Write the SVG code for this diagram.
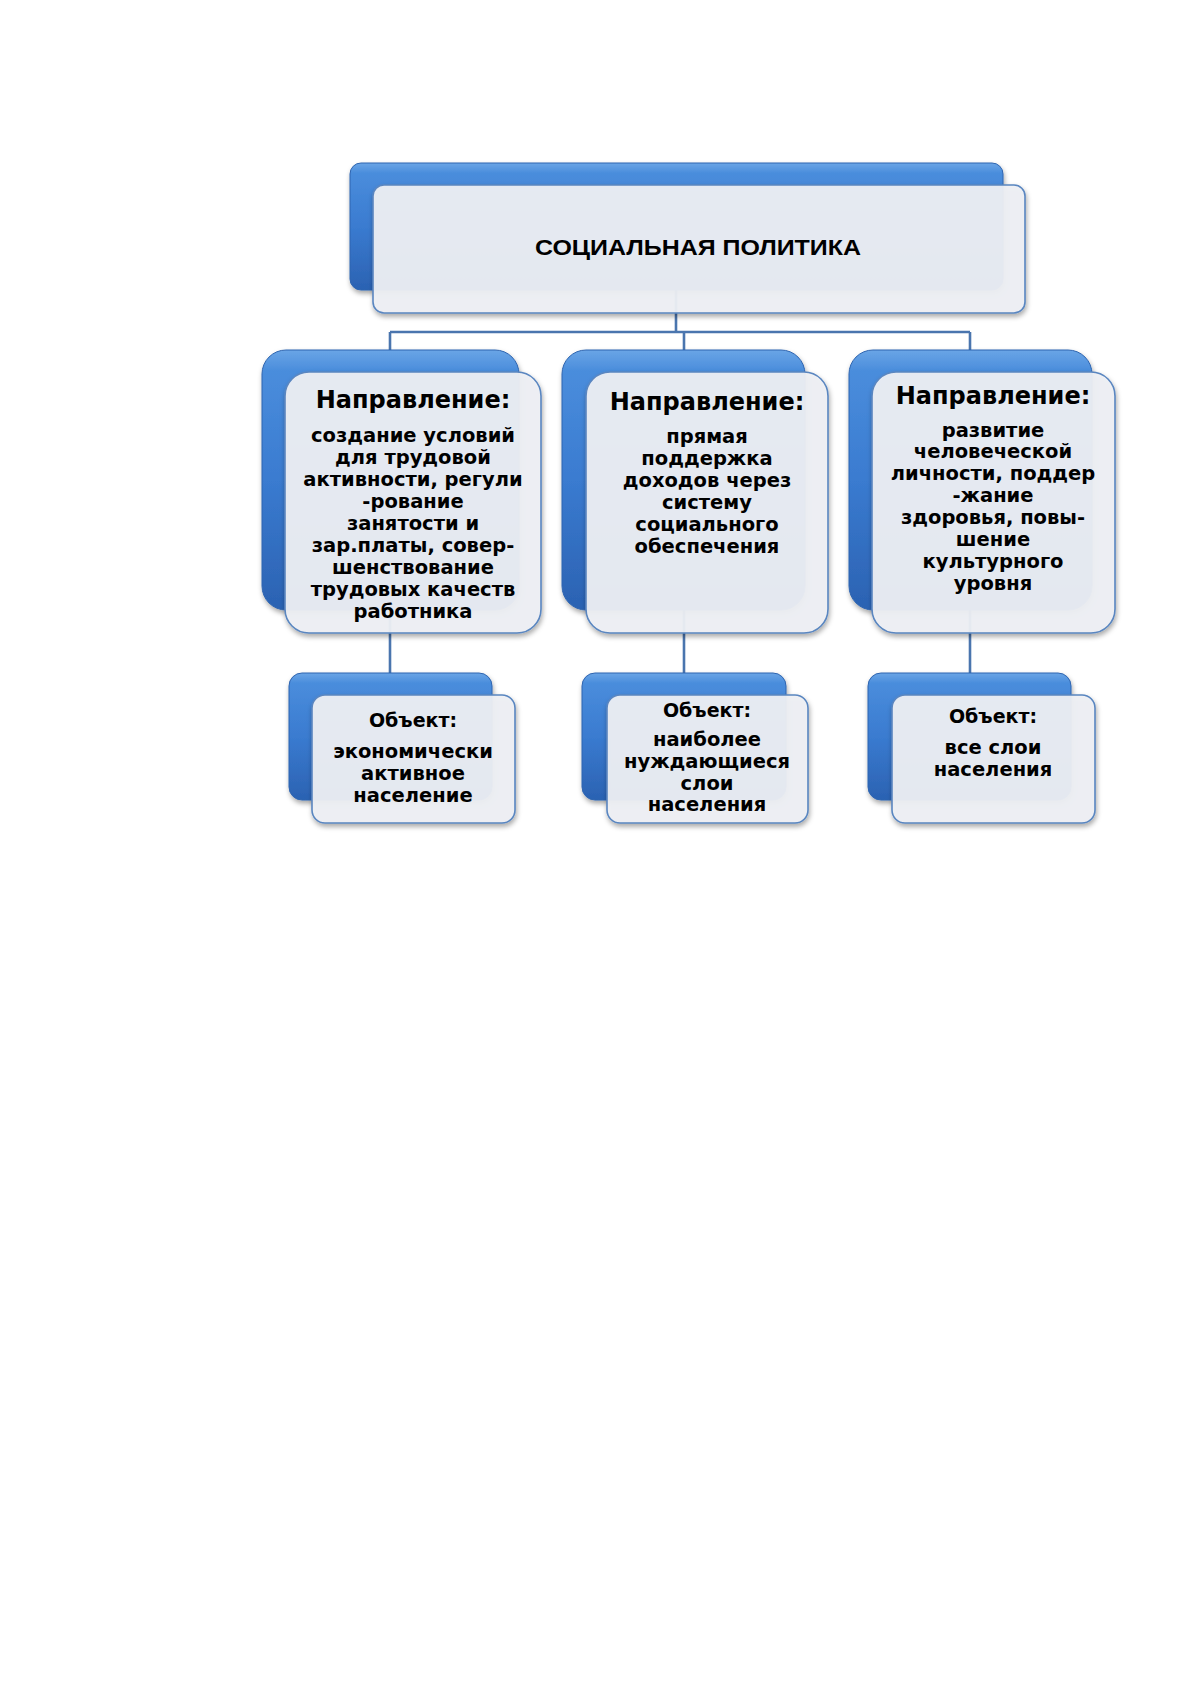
<svg xmlns="http://www.w3.org/2000/svg" width="1191" height="1684" viewBox="0 0 1191 1684">
<defs>
<linearGradient id="blueGrad" x1="0" y1="0" x2="0" y2="1">
<stop offset="0" stop-color="#6aa5e6"/>
<stop offset="0.08" stop-color="#4a8ddc"/>
<stop offset="0.5" stop-color="#3a7bd0"/>
<stop offset="1" stop-color="#2b62b2"/>
</linearGradient>
<filter id="shadow" x="-10%" y="-10%" width="120%" height="125%">
<feDropShadow dx="1" dy="3" stdDeviation="2.5" flood-color="#000" flood-opacity="0.35"/>
</filter>
</defs>
<style>
.back{fill:url(#blueGrad);stroke:#2f65b0;stroke-width:1;filter:url(#shadow)}
.front{fill:#eef0f4;fill-opacity:0.94;stroke:#5a86c0;stroke-width:1.6;filter:url(#shadow)}
.conn{fill:none;stroke:#4a75ae;stroke-width:2.6}
.title{font-family:"Liberation Sans",Arial,sans-serif;font-weight:bold;font-size:22px;fill:#000;text-anchor:middle}
.h2{font-family:"DejaVu Sans",Verdana,sans-serif;font-weight:bold;font-size:24px;fill:#000;text-anchor:middle}
.b2{font-family:"DejaVu Sans",Verdana,sans-serif;font-weight:bold;font-size:19.5px;fill:#000;text-anchor:middle}
.h3{font-family:"DejaVu Sans",Verdana,sans-serif;font-weight:bold;font-size:19px;fill:#000;text-anchor:middle}
.b3{font-family:"DejaVu Sans",Verdana,sans-serif;font-weight:bold;font-size:19.5px;fill:#000;text-anchor:middle}
</style>
<rect width="1191" height="1684" fill="#ffffff"/>

<g id="connectors">
<path class="conn" d="M676,290 V332 M390,332 H970 M390,332 V352 M684,332 V352 M970,332 V352 M390,608 V675 M684,608 V675 M970,608 V675"/>
</g>

<g id="node-root">
<rect class="back" x="350" y="163" width="653" height="127" rx="11"/>
<rect class="front" x="373" y="185" width="652" height="128" rx="11"/>
<text class="title" x="698" y="255" textLength="326" lengthAdjust="spacingAndGlyphs">СОЦИАЛЬНАЯ ПОЛИТИКА</text>
</g>

<g id="node-dir1">
<rect class="back" x="262" y="350" width="257" height="260" rx="24"/>
<rect class="front" x="285" y="372" width="256" height="261" rx="24"/>
<text class="h2" x="413" y="408">Направление:</text>
<text class="b2" x="413" y="442">создание условий</text>
<text class="b2" x="413" y="464">для трудовой</text>
<text class="b2" x="413" y="486">активности, регули</text>
<text class="b2" x="413" y="508">-рование</text>
<text class="b2" x="413" y="530">занятости и</text>
<text class="b2" x="413" y="552">зар.платы, совер-</text>
<text class="b2" x="413" y="574">шенствование</text>
<text class="b2" x="413" y="596">трудовых качеств</text>
<text class="b2" x="413" y="618">работника</text>
</g>

<g id="node-dir2">
<rect class="back" x="562" y="350" width="243" height="260" rx="24"/>
<rect class="front" x="586" y="372" width="242" height="261" rx="24"/>
<text class="h2" x="707" y="410">Направление:</text>
<text class="b2" x="707" y="443">прямая</text>
<text class="b2" x="707" y="465">поддержка</text>
<text class="b2" x="707" y="487">доходов через</text>
<text class="b2" x="707" y="509">систему</text>
<text class="b2" x="707" y="531">социального</text>
<text class="b2" x="707" y="553">обеспечения</text>
</g>

<g id="node-dir3">
<rect class="back" x="849" y="350" width="243" height="260" rx="24"/>
<rect class="front" x="872" y="372" width="243" height="261" rx="24"/>
<text class="h2" x="993" y="404">Направление:</text>
<text class="b2" x="993" y="437">развитие</text>
<text class="b2" x="993" y="458">человеческой</text>
<text class="b2" x="993" y="480">личности, поддер</text>
<text class="b2" x="993" y="502">-жание</text>
<text class="b2" x="993" y="524">здоровья, повы-</text>
<text class="b2" x="993" y="546">шение</text>
<text class="b2" x="993" y="568">культурного</text>
<text class="b2" x="993" y="590">уровня</text>
</g>

<g id="node-obj1">
<rect class="back" x="289" y="673" width="203" height="127" rx="13"/>
<rect class="front" x="312" y="695" width="203" height="128" rx="13"/>
<text class="h3" x="413" y="727">Объект:</text>
<text class="b3" x="413" y="758">экономически</text>
<text class="b3" x="413" y="780">активное</text>
<text class="b3" x="413" y="802">население</text>
</g>

<g id="node-obj2">
<rect class="back" x="582" y="673" width="204" height="127" rx="13"/>
<rect class="front" x="607" y="695" width="201" height="128" rx="13"/>
<text class="h3" x="707" y="717">Объект:</text>
<text class="b3" x="707" y="746">наиболее</text>
<text class="b3" x="707" y="768">нуждающиеся</text>
<text class="b3" x="707" y="790">слои</text>
<text class="b3" x="707" y="811">населения</text>
</g>

<g id="node-obj3">
<rect class="back" x="868" y="673" width="203" height="127" rx="13"/>
<rect class="front" x="892" y="695" width="203" height="128" rx="13"/>
<text class="h3" x="993" y="723">Объект:</text>
<text class="b3" x="993" y="754">все слои</text>
<text class="b3" x="993" y="776">населения</text>
</g>
</svg>
